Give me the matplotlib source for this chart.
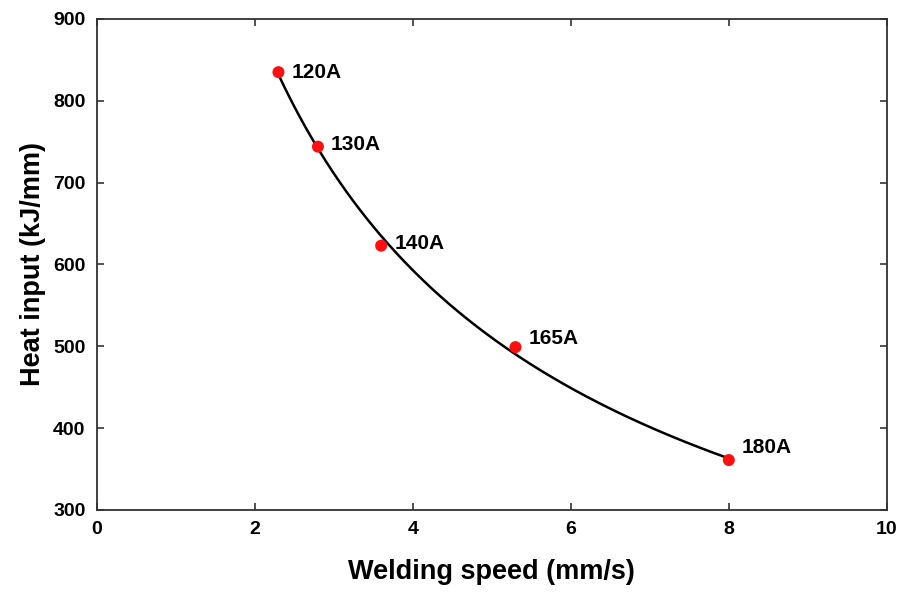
import numpy as np
import matplotlib
matplotlib.use("Agg")
import matplotlib.pyplot as plt

plt.rcParams['font.family'] = ['Liberation Sans', 'DejaVu Sans']
plt.rcParams['font.weight'] = 'bold'

# data
speed = [2.3, 2.8, 3.6, 5.3, 8.0]          # mm/s
heat = [835, 744, 623, 499, 361]           # kJ/mm
current = ['120A', '130A', '140A', '165A', '180A']
label_dy = [0, 2, 2, 9, 13]                # px shift of the labels

fig = plt.figure(figsize=(9.04, 5.93), dpi=100)
ax = fig.add_axes([0.107, 0.140, 0.874, 0.828])

# smooth curve through the points (quadratic in log-log)
coef = np.polyfit(np.log(speed), np.log(heat), 2)
xs = np.linspace(speed[0], speed[-1], 200)
ax.plot(xs, np.exp(np.polyval(coef, np.log(xs))), color='black', lw=1.8, zorder=2)
ax.scatter(speed, heat, s=75, color='#ff1010', zorder=3, edgecolors='none')

for x, y, t, dy in zip(speed, heat, current, label_dy):
    ax.annotate(t, (x, y), xytext=(13, dy), textcoords='offset pixels',
                fontsize=15, fontweight='bold', va='center', ha='left')

ax.set_xlim(0, 10)
ax.set_ylim(300, 900)
ax.set_xticks([0, 2, 4, 6, 8, 10])
ax.set_yticks([300, 400, 500, 600, 700, 800, 900])
ax.tick_params(direction='in', top=True, right=True, length=5, width=1.2,
               labelsize=14, pad=8, color='#333333')
for lab in ax.get_xticklabels() + ax.get_yticklabels():
    lab.set_fontweight('bold')
for sp in ax.spines.values():
    sp.set_linewidth(1.3)
    sp.set_color('#333333')

ax.set_xlabel('Welding speed (mm/s)', fontsize=19.5, fontweight='bold', labelpad=15)
ax.set_ylabel('Heat input (kJ/mm)', fontsize=19.5, fontweight='bold', labelpad=5)

fig.savefig('out.png', dpi=100)
